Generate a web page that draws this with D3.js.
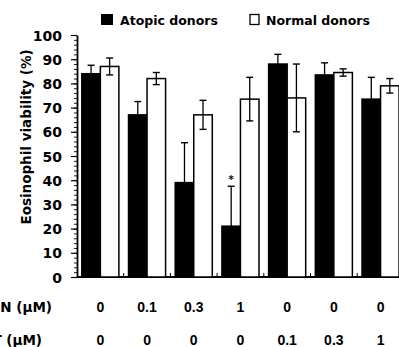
<!DOCTYPE html>
<html>
<head>
<meta charset="utf-8">
<script src="https://cdn.jsdelivr.net/npm/d3@7"></script>
<style>
  body { margin: 0; background: #fff; overflow: hidden; }
  text { font-family: "DejaVu Sans", sans-serif; font-weight: bold; fill: #000; }
  .num { font-family: "Liberation Sans", Arial, sans-serif; }
</style>
</head>
<body>
<div id="chart"></div>
<script>
/* DATA */
const groups = ["g1", "g2", "g3", "g4", "g5", "g6", "g7"];
const row1Values = ["0", "0.1", "0.3", "1", "0", "0", "0"];
const row2Values = ["0", "0", "0", "0", "0.1", "0.3", "1"];
const rowLabels = ["IFN (\u00b5M)", "T (\u00b5M)"];
const atopicMean = [84, 67, 39, 21, 88, 83.5, 73.5];
const atopicErr = [3.5, 5.5, 16.5, 16.5, 4, 5, 9];
const normalMean = [87, 82, 67, 73.5, 74, 84.5, 79];
const normalErr = [3.5, 2.5, 6, 9, 14, 1.5, 3];
const seriesNames = ["Atopic donors", "Normal donors"];
const yTicks = [0, 10, 20, 30, 40, 50, 60, 70, 80, 90, 100];

/* CONSTANTS */
const width = 399, height = 347;
const margin = { top: 35, left: 77, bottom: 70 };

const svg = d3.select("#chart").append("svg")
  .attr("width", width)
  .attr("height", height);

const yScale = d3.scaleLinear().domain([0, 100]).range([277, 35]);
const xScale = d3.scaleBand().domain(groups).range([margin.left, margin.left + 7 * 46.7]);
const xSub = d3.scaleBand().domain(seriesNames).range([0, xScale.bandwidth()]).paddingOuter(0.26);

// y axis, minor ticks every 2
svg.append("g")
  .attr("transform", `translate(${margin.left},0)`)
  .call(d3.axisLeft(yScale).tickValues(d3.range(0, 101, 2)).tickSize(3).tickFormat(""))
  .call(g => g.select(".domain").remove())
  .selectAll("line").attr("stroke-width", 0.9);

svg.append("g")
  .attr("transform", `translate(${margin.left},0)`)
  .call(d3.axisLeft(yScale).tickValues(yTicks).tickSize(6).tickPadding(9).tickSizeOuter(0))
  .call(g => g.selectAll("text").attr("font-size", 14).attr("dy", "0.36em"))
  .call(g => g.select(".domain").attr("stroke-width", 1.8))
  .selectAll("line").attr("stroke-width", 1.2);

// y axis title
svg.append("text")
  .attr("transform", `translate(31,137) rotate(-90)`)
  .attr("text-anchor", "middle")
  .attr("font-size", 13.5)
  .text("Eosinophil viability (%)");

// bottom axis line + group separator ticks
svg.append("line")
  .attr("x1", margin.left).attr("x2", width)
  .attr("y1", yScale(0)).attr("y2", yScale(0))
  .attr("stroke", "#000").attr("stroke-width", 1.8);

svg.selectAll(".sep")
  .data(groups.slice(1))
  .join("line")
  .attr("class", "sep")
  .attr("x1", d => xScale(d)).attr("x2", d => xScale(d))
  .attr("y1", yScale(0)).attr("y2", yScale(0) - 4)
  .attr("stroke", "#000").attr("stroke-width", 1);

// bars
const bars = groups.map((g, i) => [
  { g, s: seriesNames[0], v: atopicMean[i], e: atopicErr[i] },
  { g, s: seriesNames[1], v: normalMean[i], e: normalErr[i] }
]).flat();

svg.selectAll("rect.bar")
  .data(bars)
  .join("rect")
  .attr("class", "bar")
  .attr("x", d => xScale(d.g) + xSub(d.s))
  .attr("y", d => yScale(d.v))
  .attr("width", xSub.bandwidth())
  .attr("height", d => yScale(0) - yScale(d.v))
  .attr("fill", d => d.s === seriesNames[0] ? "#000" : "#fff")
  .attr("stroke", "#000")
  .attr("stroke-width", 1.5);

// error bars
const err = svg.selectAll("g.err")
  .data(bars)
  .join("g")
  .attr("class", "err")
  .attr("transform", d => `translate(${xScale(d.g) + xSub(d.s) + xSub.bandwidth() / 2},0)`);

err.append("line")
  .attr("y1", d => yScale(d.v + d.e)).attr("y2", d => yScale(d.v - d.e))
  .attr("stroke", "#000").attr("stroke-width", 1.3);
err.append("line")
  .attr("x1", -3.5).attr("x2", 3.5)
  .attr("y1", d => yScale(d.v + d.e)).attr("y2", d => yScale(d.v + d.e))
  .attr("stroke", "#000").attr("stroke-width", 1.4);
err.append("line")
  .attr("x1", -3.5).attr("x2", 3.5)
  .attr("y1", d => yScale(d.v - d.e)).attr("y2", d => yScale(d.v - d.e))
  .attr("stroke", "#000").attr("stroke-width", 1.4);

// significance star over group 4 atopic
svg.append("text")
  .attr("x", xScale("g4") + xSub(seriesNames[0]) + xSub.bandwidth() / 2)
  .attr("y", yScale(atopicMean[3] + atopicErr[3]) - 3)
  .attr("text-anchor", "middle")
  .attr("font-size", 10)
  .text("*");

// legend
const legend = svg.append("g");
legend.append("rect").attr("x", 101).attr("y", 14).attr("width", 12).attr("height", 11).attr("fill", "#000");
legend.append("text").attr("x", 120).attr("y", 25).attr("font-size", 12.5).text(seriesNames[0]);
legend.append("rect").attr("x", 250).attr("y", 14.5).attr("width", 9).attr("height", 10)
  .attr("fill", "#fff").attr("stroke", "#000").attr("stroke-width", 1.3);
legend.append("text").attr("x", 266).attr("y", 25).attr("font-size", 12.5).text(seriesNames[1]);

// concentration rows
[row1Values, row2Values].forEach((vals, r) => {
  const y = r === 0 ? 312 : 345;
  svg.selectAll(".row" + r)
    .data(vals)
    .join("text")
    .attr("class", "num row" + r)
    .attr("x", (d, i) => xScale(groups[i]) + xScale.bandwidth() / 2)
    .attr("y", y)
    .attr("text-anchor", "middle")
    .attr("font-size", 14)
    .text(d => d);
  svg.append("text")
    .attr("x", r === 0 ? 52 : 42)
    .attr("y", y)
    .attr("text-anchor", "end")
    .attr("font-size", 13.5)
    .text(rowLabels[r]);
});
</script>
</body>
</html>
